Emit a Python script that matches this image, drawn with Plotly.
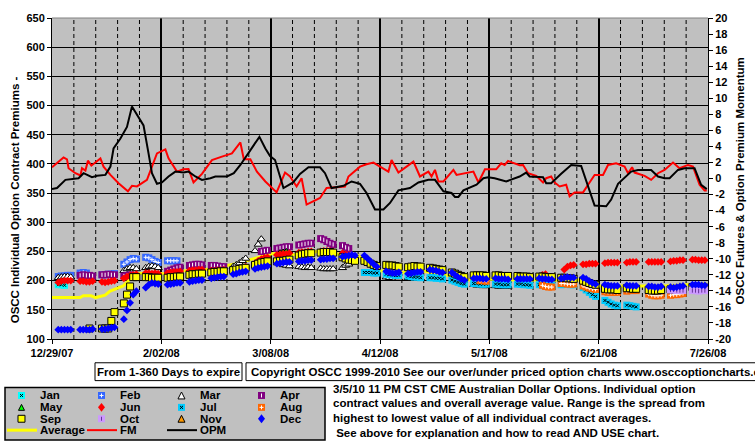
import pandas as pd
import plotly.graph_objects as go

FONT = "Liberation Sans, Arial, sans-serif"

# ---------------- data ----------------
START = pd.Timestamp("2007-12-29")
END = pd.Timestamp("2008-07-26")
trade_dates = pd.bdate_range("2007-12-31", "2008-07-25")
week_dates = pd.date_range(START, END, freq="7D")

right_tick_vals = [-20, -18, -16, -14, -12, -10, -8, -6, -4, -2, 0, 2, 4, 6, 8, 10, 12, 14, 16, 18, 20]
right_tick_labels = ["-20", "-18", "-16", "-14", "-12", "-10", "-8", "-6", "-4", "-2", "0",
                     "2", "4", "6", "8", "10", "12", "14", "16", "18", "20"]

N = None
# contract premiums, one row per trading week (Mon..Fri), starting at the given week
jan_start = 0
jan_vals = [[193, 193, 192, N, N]]

feb_start = 0
feb_vals = [
    [207, 208, 208, 209, 209],
    [213, 214, 213, N, N],
    [210, 210, 211, 211, 212],
    [228, 232, 236, 238, 237],
    [240, 239, 236, 233, 231],
    [234, 234, 234, 234, N],
]

mar_start = 0
mar_vals = [
    [205, 206, 207, 207, 206],
    [N, N, N, N, N],
    [N, N, N, N, N],
    [217, 220, 222, 222, 220],
    [222, 224, 225, 224, 222],
    [N, N, N, N, N],
    [N, N, N, N, N],
    [N, N, N, N, N],
    [224, 227, 230, 234, 238],
    [251, 262, 271, N, N],
    [N, N, 227, 226, 225],
    [224, 223, 222, 223, 222],
    [221, 220, 220, 220, 220],
    [222, 226, 228, N, N],
    [N, N, N, N, N],
    [206, 205, 205, 204, 204],
    [205, 205, 204, 204, 204],
    [N, N, N, N, N],
    [N, N, N, N, N],
    [193, 192, 192, 191, 191],
    [191, 190, 190, 190, 190],
]

apr_start = 1
apr_vals = [
    [209, 210, 209, 209, 208],
    [210, 210, 211, 210, 210],
    [208, 209, 210, N, N],
    [N, N, N, N, N],
    [216, 218, 220, 222, 223],
    [226, 227, 228, 228, 227],
    [226, 226, 225, 224, 224],
    [N, N, N, N, N],
    [N, N, 250, 251, 252],
    [255, 256, 257, 258, 258],
    [261, 262, 263, 264, 264],
    [272, 270, 267, 264, 262],
    [260, 257, 255, N, N],
]

may_start = 10
may_vals = [
    [N, 248, 249, 250, N],
    [N, N, N, N, N],
    [N, N, N, N, N],
    [N, N, N, N, N],
    [N, N, N, N, N],
    [N, N, N, N, N],
    [N, N, N, N, N],
    [207, 207, N, N, N],
]

jun_start = 0
jun_vals = [
    [197, 199, 200, 200, 200],
    [199, 199, 198, 198, 199],
    [198, 197, 198, 199, 200],
    [204, 207, 209, 210, 211],
    [213, 213, 212, 213, 212],
    [213, 214, 215, 215, 216],
    [217, 218, 218, 219, 219],
    [217, 217, 218, 218, 219],
    [219, 220, 221, 222, 224],
    [230, 234, 237, 239, 240],
    [244, 245, 246, 246, 247],
    [248, 249, 249, 250, 250],
    [250, 251, 251, 251, 250],
    [247, 245, 244, N, N],
    [N, N, N, N, N],
    [N, N, N, N, N],
    [N, N, N, N, N],
    [N, N, N, N, N],
    [N, N, N, N, N],
    [N, N, N, N, N],
    [N, N, N, N, N],
    [N, N, N, N, N],
    [N, 210, 211, N, N],
    [N, 219, 224, 226, 227],
    [228, 228, 229, 229, 229],
    [230, 231, 231, 231, 231],
    [231, 232, 232, 232, N],
    [232, 232, 232, 232, 232],
    [233, 234, 234, 235, 235],
    [236, 236, 235, 235, 235],
]

jul_start = 14
jul_vals = [
    [214, 214, 214, 213, 213],
    [211, 210, 210, 209, 209],
    [208, 207, 206, 206, 205],
    [205, 205, 204, 204, 203],
    [201, 199, 197, 195, 194],
    [195, 195, 194, 194, 194],
    [194, 194, 193, 193, 193],
    [194, 194, 193, 193, 192],
    [193, 192, 191, 191, 192],
    [193, 194, 194, 193, 193],
    [188, 184, 180, 176, 173],
    [166, 163, 160, 158, 157],
    [158, 157, 156, 155, N],
]

aug_start = 19
aug_vals = [
    [N, N, 200, 200, 199],
    [N, N, N, N, N],
    [N, N, N, N, N],
    [N, 192, 190, 189, 189],
    [195, 195, 194, 194, 194],
    [191, 189, 187, 186, 185],
    [181, 180, 180, 180, 180],
    [182, 183, 183, 183, N],
    [177, 175, 174, 174, 175],
    [175, 176, 176, 177, 178],
]

sep_start = 0
sep_vals = [
    [N, N, N, N, N],
    [N, N, N, 118, N],
    [118, 118, 118, 131, 146],
    [161, 176, 190, 206, 206],
    [206, 206, 205, 205, 205],
    [205, 206, 206, 207, 207],
    [210, 211, 211, 212, 212],
    [214, 215, 215, 216, 216],
    [218, 219, 220, 221, 222],
    [227, 229, 231, 232, 233],
    [233, 234, 234, 235, 236],
    [243, 245, 246, 247, 247],
    [248, 249, 249, 249, 248],
    [240, 238, 236, 235, 234],
    [234, 232, 229, 227, 225],
    [227, 226, 226, 225, 224],
    [223, 224, 225, 224, 224],
    [222, 221, 220, 219, 218],
    [214, 212, 210, 208, 206],
    [209, 209, 209, 209, 208],
    [209, 209, 208, 208, 208],
    [208, 207, 207, 207, 206],
    [207, 207, 206, 206, 206],
    [205, 205, 204, 204, 203],
    [200, 198, 196, 194, 193],
    [186, 185, 185, 185, 184],
    [187, 187, 186, 186, N],
    [184, 183, 183, 183, 184],
    [185, 185, 185, 184, 184],
    [189, 189, 188, 188, 188],
]

oct_start = 28
oct_vals = [
    [184, 184, 183, 183, 183],
    [183, 183, 182, 183, 183],
]

dec_start = 0
dec_vals = [
    [116, 116, 116, 116, 116],
    [116, 116, 116, 116, 117],
    [117, 117, 118, 119, 120],
    [134, 149, 162, 176, 182],
    [188, 193, 196, 195, 194],
    [193, 194, 195, 196, 196],
    [198, 199, 200, 201, 201],
    [204, 205, 206, 207, 207],
    [211, 212, 214, 215, 216],
    [220, 222, 223, 224, 225],
    [229, 230, 231, 232, 232],
    [233, 234, 234, 235, 235],
    [236, 237, 237, 238, 238],
    [241, 242, 243, 244, 243],
    [243, 238, 233, 228, 224],
    [216, 214, 213, 213, 214],
    [212, 213, 214, 215, 215],
    [219, 218, 217, 215, 214],
    [214, 210, 206, 203, 201],
    [204, 204, 204, 203, 203],
    [204, 203, 203, 203, 202],
    [203, 203, 203, 203, 203],
    [204, 203, 203, 202, 202],
    [204, 205, 206, 205, 205],
    [205, 203, 199, 196, 194],
    [193, 192, 191, 191, 191],
    [192, 191, 191, 191, N],
    [190, 190, 189, 189, 190],
    [189, 188, 189, 190, 191],
    [193, 193, 193, 192, 192],
]

# overall average (left axis), x = days after 12/29/07
avg_days = [0, 9, 10, 12.5, 14, 17, 18.6, 20.7, 22.8, 24.4, 25.5, 27.6, 31.4, 35.6, 42, 47.4,
            52.7, 59, 65.5, 70.3, 74, 79.4, 84.7, 90, 95.4, 98, 105, 112.5, 119.4, 126.3,
            133.8, 140.2, 147.7, 154.1, 161.6, 168.5, 174.4, 181.8, 188, 196, 203, 209.5]
avg_vals = [171, 171, 174, 174, 171, 175, 182, 186, 191, 199, 207, 212, 214, 212, 217, 217,
            223, 229, 239, 246, 247, 243, 250, 246, 243, 243, 217, 214, 216, 209,
            201, 203, 201, 201, 201, 201, 191, 191, 192, 191, 193, 195]

# futures momentum (right axis)
fm_days = [0, 3.7, 4.8, 5.3, 7.5, 9.1, 9.6, 10.7, 11.5, 12.6, 15.5, 16.5, 18.7, 21.3, 24.3,
           25.6, 27.2, 30.4, 32, 33.6, 36.3, 37.3, 40, 42.1, 43.7, 45.3, 48, 51.2, 54.4, 57.6,
           60.3, 61.4, 63.5, 65.6, 68.3,
           69.8, 71.9, 74.6, 76.2, 78.3, 79.9, 81.5, 85.8, 87.9, 91.1, 93.8, 94.9, 98.6, 100.7,
           102.9, 105, 107.7, 108.7, 110.9, 115.7, 117.8, 120.5, 121.5, 122.6, 123.7, 125.3,
           128.5, 129.5, 132.7, 134.9, 136.5, 138.6,
           139.6, 142.2, 143.8, 144.9, 146, 148.1, 149.7, 150.8, 152.4, 155, 157.2, 158.2,
           159.8, 160.9, 162.5, 164.6, 165.2, 165.7, 167.3, 170, 171.6, 173.7, 176.4, 178,
           180.6, 183.3, 184.4, 185.7, 186.5, 189.7, 191.8, 194, 196.1, 198.8, 200.9, 203.6,
           205.2, 207.3, 208.9, 209.6]
fm_vals = [1.40, 2.63, 2.39, 1.28, 0.66, 0.37, 1.28, 0.99, 2.22, 1.60, 2.51, 1.48, 0.45, -0.58,
           -1.60, -0.91, -0.99, -0.17, 1.48, 3.13, 3.62, 2.51, 0.86, 1.15, 1.19, -0.49, 0.58,
           2.30, 2.72, 3.13, 4.49, 2.39, 2.39, 0.86, -0.37,
           -0.91, -1.73, 0.74, 0.25, -0.99, 0.04, -3.25, -2.43, -1.19, -1.07, -0.99, 0.25,
           1.48, 1.77, 1.98, 1.48, 0.86, 2.30, 0.74, 2.10, 0.25, 0.86, 0.25, 1.07, -0.37,
           -0.37, 1.07, 0.45, 0.74, 0.86, -0.49, 1.15,
           1.15, 1.15, 1.89, 1.69, 2.18, 1.89, 1.65, 1.69, 0.66, 0.33, -0.49, 0.04, 0.25,
           -0.49, -0.99, -0.78, -1.60, -2.22, -1.73, -1.73, -0.78, 0.45, 0.45, 1.69, 1.89,
           1.48, 0.66, 1.40, 0.74, 0.33, -0.17, 0.66, 1.07, 1.98, 1.28, 1.69, 1.48, -0.78,
           -1.48, -1.48]

# option premium momentum (right axis)
opm_days = [0, 1.6, 4.3, 8.5, 10.1, 12.8, 14.4, 17.1, 18.7, 19.7, 21.9, 24, 25.6, 27.7, 29.3,
            30.9, 32, 33.6, 35.2, 37.3, 39.5, 42.1, 43.7, 45.9, 48, 50.7, 52.3, 56, 58.2, 60.3,
            64, 66.4, 68.3,
            69.8, 71.4, 74.1, 77.2, 79.4, 82.1, 85.8, 87.4, 89.5, 93.3, 95.9, 98.6, 100.7,
            103.4, 106.1, 108.2, 110.9, 114.6, 117.3, 120.5, 122.6, 125.3, 127.9, 129, 130.1,
            131.7, 135.9, 138.1,
            139.6, 141.7, 145.4, 149.7, 151.8, 152.9, 157.2, 158.2, 159.8, 163, 166.2, 169.4,
            171.6, 173.7, 177.4, 179, 181.2, 185.4, 187.6, 191.8, 194, 196.1, 197.7, 200.4,
            202.5, 205.7, 207.8, 209.6]
opm_vals = [-1.32, -1.19, -0.17, 0.04, 0.66, 0.16, 0.33, 0.45, 1.48, 3.74, 4.98, 6.42, 8.97,
            7.65, 6.62, 3.13, 0.66, -0.66, -0.49, 0.25, 0.86, 0.74, 0.86, 0.25, -0.17, 0.04,
            0.25, 0.25, 0.66, 1.69, 3.74, 5.19, 3.74,
            2.80, 2.30, -1.19, -0.49, 0.58, 1.40, 1.40, 0.66, -1.19, -0.91, -0.37, -0.66,
            -1.81, -3.87, -3.87, -3.05, -1.48, -1.19, -0.49, -0.17, -0.17, -1.60, -1.81,
            -2.30, -2.30, -1.48, -0.78, 0.04,
            0.16, 0.04, -0.37, 0.25, 0.74, 0.25, 0.16, -0.58, -0.58, 0.58, 1.69, 1.56,
            -0.99, -3.37, -3.46, -2.63, -0.66, 0.86, 1.07, 1.07, 0.25, 0.04, 0.04, 1.07,
            1.28, 1.28, -0.78, -1.32]

legend_names = ["Jan", "Feb", "Mar", "Apr", "May", "Jun", "Jul", "Aug", "Sep", "Oct", "Nov", "Dec",
                "Average", "FM", "OPM"]
info_lines = [
    "3/5/10 11 PM CST CME Australian Dollar Options. Individual option",
    "contract values and overall average value. Range is the spread from",
    "highest to lowest value of all individual contract averages.",
    " See above for explanation and how to read AND USE chart.",
]
days_box_text = "From 1-360 Days to expire"
copyright_text = "Copyright OSCC 1999-2010 See our over/under priced option charts www.osccoptioncharts.com"
left_title = "OSCC Individual Option Contract Premiums -"
right_title = "OSCC Futures & Option Premium Momentum"

# ---------------- styles ----------------
# mark: small inner glyph drawn on top of each marker (symbol, colour)
STY = {
    "Jan": dict(color="#00FFFF", symbol="square", size=7, lw=0, mark=("x-thin", "black")),
    "Feb": dict(color="#3366FF", symbol="square", size=7, lw=0, mark=("cross-thin", "white")),
    "Mar": dict(color="#FFFFFF", symbol="triangle-up", size=7, lw=1, mark=None),
    "Apr": dict(color="#800080", symbol="square", size=7, lw=0, mark=("line-ns", "white")),
    "May": dict(color="#00FF00", symbol="triangle-up", size=6, lw=1, mark=None),
    "Jun": dict(color="#FF0000", symbol="diamond", size=6, lw=0, mark=None),
    "Jul": dict(color="#00CCFF", symbol="square", size=7, lw=0, mark=("x-thin", "black")),
    "Aug": dict(color="#FF6600", symbol="square", size=7, lw=0, mark=("cross-thin", "white")),
    "Sep": dict(color="#FFFF00", symbol="square", size=7, lw=1, mark=None),
    "Oct": dict(color="#CC99FF", symbol="square", size=7, lw=0, mark=("line-ns", "#663399")),
    "Nov": dict(color="#FF9900", symbol="triangle-up", size=7, lw=1, mark=None),
    "Dec": dict(color="#0000FF", symbol="diamond", size=6, lw=0, mark=None),
}


def expand(start_week, weeks):
    xs, ys = [], []
    for w, row in enumerate(weeks):
        for j, v in enumerate(row):
            if v is None:
                continue
            xs.append(trade_dates[(start_week + w) * 5 + j])
            ys.append(v)
    return xs, ys


def to_dates(days):
    return [START + pd.Timedelta(days=d) for d in days]


fig = go.Figure()

fig.add_trace(go.Scatter(x=to_dates(avg_days), y=avg_vals, mode="lines", name="Average",
                         line=dict(color="#FFFF00", width=3)))

series = [("Jan", jan_start, jan_vals), ("Feb", feb_start, feb_vals), ("Mar", mar_start, mar_vals),
          ("Apr", apr_start, apr_vals), ("May", may_start, may_vals), ("Jun", jun_start, jun_vals),
          ("Jul", jul_start, jul_vals), ("Aug", aug_start, aug_vals), ("Sep", sep_start, sep_vals),
          ("Oct", oct_start, oct_vals), ("Dec", dec_start, dec_vals)]
for name, st, vals in series:
    xs, ys = expand(st, vals)
    s = STY[name]
    fig.add_trace(go.Scatter(x=xs, y=ys, mode="markers", name=name,
                             marker=dict(symbol=s["symbol"], size=s["size"], color=s["color"],
                                         line=dict(width=s["lw"], color="black"))))
    if s["mark"]:
        fig.add_trace(go.Scatter(x=xs, y=ys, mode="markers", name=name, showlegend=False,
                                 marker=dict(symbol=s["mark"][0], size=3,
                                             line=dict(width=1, color=s["mark"][1]))))

fig.add_trace(go.Scatter(x=to_dates(fm_days), y=fm_vals, mode="lines", name="FM", yaxis="y2",
                         line=dict(color="#FF0000", width=2)))
fig.add_trace(go.Scatter(x=to_dates(opm_days), y=opm_vals, mode="lines", name="OPM", yaxis="y2",
                         line=dict(color="#000000", width=2)))

# ---------------- layout ----------------
W, H = 755, 446
PL, PT, PW, PH = 52, 15, 656, 324
DAY_MS = 86400000


def fx(px):
    return (px - PL) / PW


def fy(py):
    return (PT + PH - py) / PH


tickfont = dict(family=FONT, size=11, color="black", weight="bold")

fig.update_layout(
    width=W, height=H,
    margin=dict(l=PL, r=W - PL - PW, t=PT, b=H - PT - PH, pad=0),
    paper_bgcolor="white", plot_bgcolor="#C0C0C0",
    showlegend=False,
    font=dict(family=FONT, size=11, color="black"),
    xaxis=dict(type="date", range=[START, END], tickmode="linear", tick0=START,
               dtick=35 * DAY_MS, tickformat="%-m/%d/%y",
               showgrid=True, gridcolor="black", gridwidth=2,
               ticks="outside", ticklen=4, tickcolor="black", tickwidth=1,
               showline=True, linecolor="black", linewidth=1, zeroline=False, tickfont=tickfont),
    yaxis=dict(range=[100, 650], tickmode="linear", tick0=100, dtick=50,
               showgrid=True, gridcolor="black", gridwidth=1,
               ticks="outside", ticklen=4, tickcolor="black",
               showline=True, linecolor="black", linewidth=1, zeroline=False, tickfont=tickfont),
    yaxis2=dict(range=[-20, 20], overlaying="y", side="right", tickmode="array",
                tickvals=right_tick_vals, ticktext=right_tick_labels, showgrid=False,
                ticks="outside", ticklen=4, tickcolor="black",
                showline=True, linecolor="black", linewidth=1, zeroline=False, tickfont=tickfont),
)

shapes = []
annotations = []
bold = dict(family=FONT, size=11.5, color="black", weight="bold")

# weekly dashed grid lines (between the 5-week solid grid lines)
for d in week_dates:
    if (d - START).days % 35 == 0:
        continue
    shapes.append(dict(type="line", xref="x", yref="paper", x0=d, x1=d, y0=0, y1=1,
                       layer="below", line=dict(color="black", width=1, dash="4px,3px")))

# top border of plot
shapes.append(dict(type="line", xref="paper", yref="paper", x0=0, x1=1, y0=1, y1=1,
                   line=dict(color="#808080", width=1)))

# axis titles
annotations.append(dict(text=left_title, xref="paper", yref="paper", x=fx(15), y=fy(199),
                        textangle=-90, showarrow=False, xanchor="center", yanchor="middle",
                        font=bold))
annotations.append(dict(text=right_title, xref="paper", yref="paper", x=fx(740), y=fy(180),
                        textangle=-90, showarrow=False, xanchor="center", yanchor="middle",
                        font=bold))

# boxes below axis
shapes.append(dict(type="rect", xref="paper", yref="paper", x0=fx(95), x1=fx(242), y0=fy(381),
                   y1=fy(363), fillcolor="white", line=dict(color="black", width=1)))
annotations.append(dict(text=days_box_text, xref="paper", yref="paper", x=fx(168.5), y=fy(372),
                        showarrow=False, xanchor="center", yanchor="middle", font=bold))
shapes.append(dict(type="rect", xref="paper", yref="paper", x0=fx(246), x1=fx(800), y0=fy(381),
                   y1=fy(363), fillcolor="white", line=dict(color="black", width=1)))
annotations.append(dict(text=copyright_text, xref="paper", yref="paper", x=fx(249), y=fy(372),
                        showarrow=False, xanchor="left", yanchor="middle", font=bold))

# info text
for i, line in enumerate(info_lines):
    annotations.append(dict(text=line, xref="paper", yref="paper", x=fx(331), y=fy(389 + 14.8 * i),
                            showarrow=False, xanchor="left", yanchor="middle", font=bold))

# legend box
shapes.append(dict(type="rect", xref="paper", yref="paper", x0=fx(5), x1=fx(325), y0=fy(441),
                   y1=fy(388), fillcolor="#C0C0C0", line=dict(color="black", width=1.5)))
row_y = [396, 408, 419.5, 431]


def path(points, close=True):
    return "M " + " L ".join(f"{fx(a):.5f},{fy(b):.5f}" for a, b in points) + (" Z" if close else "")


for i, name in enumerate(legend_names):
    col, row = i % 4, i // 4
    cx, cy = 21.5 + 80 * col, row_y[row]
    annotations.append(dict(text=name, xref="paper", yref="paper", x=fx(38 + 80 * col), y=fy(cy),
                            showarrow=False, xanchor="left", yanchor="middle",
                            font=dict(family=FONT, size=11.5, color="black", weight="bold")))
    if name in STY:
        s = STY[name]
        h = 3 if name == "May" else 3.5
        if s["symbol"] == "square":
            pts = [(cx - h, cy - h), (cx + h, cy - h), (cx + h, cy + h), (cx - h, cy + h)]
        elif s["symbol"] == "diamond":
            pts = [(cx, cy - h - 1), (cx + h, cy), (cx, cy + h + 1), (cx - h, cy)]
        else:
            pts = [(cx, cy - h), (cx + h, cy + h), (cx - h, cy + h)]
        shapes.append(dict(type="path", xref="paper", yref="paper", path=path(pts),
                           fillcolor=s["color"],
                           line=dict(color="black", width=s["lw"] if s["lw"] else 0)))
        if s["mark"]:
            sym, mc = s["mark"]
            if sym == "x-thin":
                segs = [[(cx - 1.5, cy - 1.5), (cx + 1.5, cy + 1.5)], [(cx - 1.5, cy + 1.5), (cx + 1.5, cy - 1.5)]]
            elif sym == "cross-thin":
                segs = [[(cx - 2, cy), (cx + 2, cy)], [(cx, cy - 2), (cx, cy + 2)]]
            else:
                segs = [[(cx, cy - 2), (cx, cy + 2)]]
            for sg in segs:
                shapes.append(dict(type="path", xref="paper", yref="paper", path=path(sg, False),
                                   line=dict(color=mc, width=1)))
    else:
        lc = {"Average": ("#FFFF00", 3), "FM": ("#FF0000", 2), "OPM": ("#000000", 2)}[name]
        shapes.append(dict(type="line", xref="paper", yref="paper", x0=fx(7 + 80 * col),
                           x1=fx(37 + 80 * col), y0=fy(cy), y1=fy(cy),
                           line=dict(color=lc[0], width=lc[1])))

fig.update_layout(shapes=shapes, annotations=annotations)
fig.write_html("out.html", config={"displayModeBar": False},
               post_script="document.documentElement.style.margin='0';"
                           "document.body.style.margin='0';"
                           "document.body.style.overflow='hidden';")
